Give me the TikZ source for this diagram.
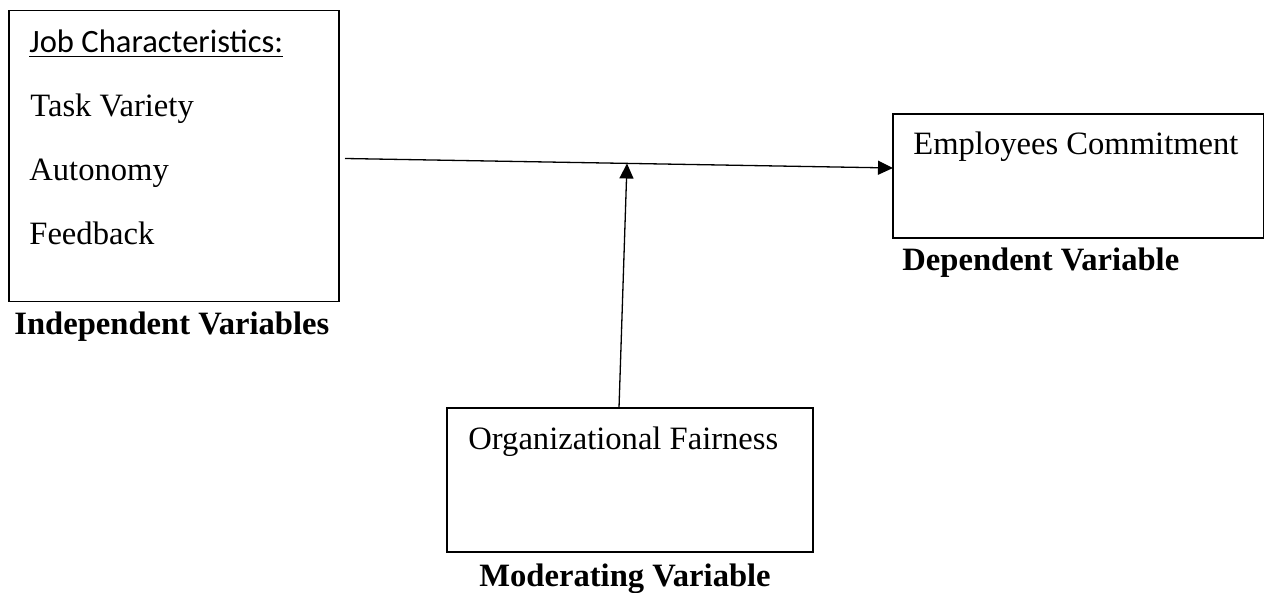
\documentclass[tikz,border=0pt]{standalone}
\usepackage{fontspec}
\setmainfont{Liberation Serif}
\newfontfamily\calfont{Carlito}
\usetikzlibrary{arrows.meta}
\begin{document}
\begin{tikzpicture}[x=0.5pt,y=-0.5pt,
  box/.style={draw,line width=0.65pt,rectangle,inner sep=0pt},
  txt/.style={anchor=base west,inner sep=0pt,font=\fontsize{16.3}{19}\selectfont},
  lbl/.style={anchor=base west,inner sep=0pt,font=\fontsize{16.3}{19}\selectfont\bfseries},
  conn/.style={line width=0.65pt,-{Triangle[length=7.5pt,width=7pt]}}]
\useasboundingbox (0,0) rectangle (1264,593);
% boxes
\node[box,minimum width=165pt,minimum height=145.5pt] (iv) at (174,156) {};
\node[box,minimum width=185.25pt,minimum height=62pt] (dv) at (1078.25,176) {};
\node[box,minimum width=183pt,minimum height=72pt] (mv) at (630,480) {};
% texts
\node[txt] (jc) at (29,53) {\calfont\underline{Job Characteristics:}};
\node[txt] (tv) at (30,117) {Task Variety};
\node[txt] (au) at (29,181) {Autonomy};
\node[txt] (fb) at (29,245) {Feedback};
\node[lbl] (ivl) at (14,335) {Independent Variables};
\node[txt] (ec) at (913,155) {Employees Commitment};
\node[lbl] (dvl) at (902,271) {Dependent Variable};
\node[txt] (of) at (468,449) {Organizational Fairness};
\node[lbl] (mvl) at (479,586) {Moderating Variable};
% connectors
\coordinate (s) at (345,158.5);
\coordinate (t) at (893,168);
\coordinate (m) at (627,163.5);
\coordinate (mb) at (619,408);
\draw[conn] (s) -- (t);
\draw[conn] (mb) -- (m);
\end{tikzpicture}
\end{document}
